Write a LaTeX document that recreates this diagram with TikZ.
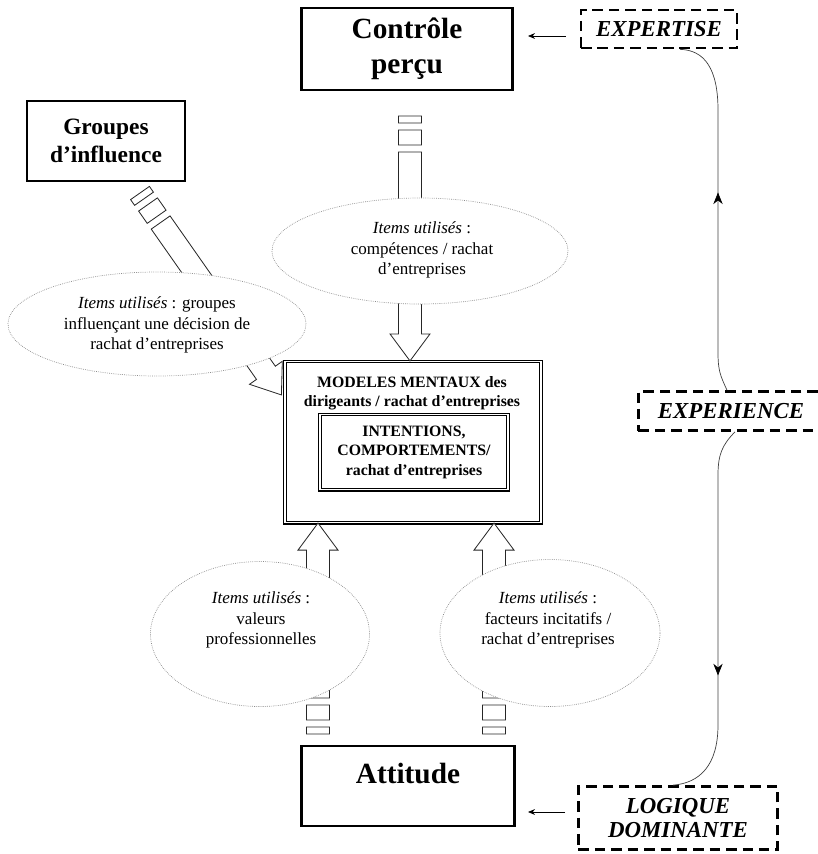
\documentclass[tikz,border=0pt]{standalone}
\usepackage{fontspec}
\setmainfont{Liberation Serif}
\usetikzlibrary{calc,arrows.meta,decorations.markings,shapes.geometric}

\newcommand{\hollowarrow}[2]{%
\draw[blockarrow] let \p1=($(#2)-(#1)$), \n1={atan2(\y1,\x1)}, \n2={veclen(\x1,\y1)} in
  [shift={(#1)}, rotate=\n1]
  (0pt,-0.345cm) -- (0.21cm,-0.345cm) -- (0.21cm,0.345cm) -- (0pt,0.345cm) -- cycle
  (0.42cm,-0.345cm) -- (0.87cm,-0.345cm) -- (0.87cm,0.345cm) -- (0.42cm,0.345cm) -- cycle
  (1.08cm,-0.345cm) -- ({\n2*1pt-0.81cm},-0.345cm) -- ({\n2*1pt-0.81cm},-0.6cm)
  -- ({\n2*1pt},0pt) -- ({\n2*1pt-0.81cm},0.6cm) -- ({\n2*1pt-0.81cm},0.345cm)
  -- (1.08cm,0.345cm) -- cycle;
}

\tikzset{
  mainbox/.style={draw, line width=2.4pt, align=center, inner sep=0pt},
  bigbold/.style={font=\fontsize{25pt}{30pt}\selectfont\bfseries},
  midbold/.style={font=\fontsize{20pt}{24pt}\selectfont\bfseries},
  framebox/.style={draw, double, line width=1pt, double distance=1.4pt, inner sep=0pt},
  modeltext/.style={align=center, font=\fontsize{13.5pt}{16.6pt}\selectfont\bfseries},
  sourcebox/.style={draw, line width=2.3pt, dash pattern=on 9pt off 5pt, align=center, inner sep=0pt,
    font=\fontsize{19.5pt}{21pt}\selectfont\bfseries\itshape},
  bubble/.style={ellipse, draw=black!45, densely dotted, line width=0.6pt, fill=white, inner sep=0pt},
  itemtext/.style={align=center, font=\fontsize{14.5pt}{17.5pt}\selectfont},
  blockarrow/.style={draw=black!85, line width=0.7pt, fill=white},
  pointer/.style={-{Stealth[length=6pt,width=5pt]}, line width=0.7pt},
  linkline/.style={draw=black!75, line width=0.6pt},
  linktip/.style={postaction={decorate, decoration={markings,
    mark=at position #1 with {\arrow[black]{Stealth[length=10pt,width=8pt]}}}}}
}

\begin{document}
\begin{tikzpicture}[x=0.03cm,y=-0.03cm]
\useasboundingbox (0,0) rectangle (818,854);

\node[mainbox, bigbold, minimum width=6.33cm, minimum height=2.46cm] (controle) at (407,49) {Contrôle\\perçu};
\node[mainbox, midbold, minimum width=4.74cm, minimum height=2.4cm] (groupes) at (106,141) {Groupes\\d’influence};
\node[mainbox, bigbold, minimum width=6.39cm, minimum height=2.4cm] (attitude) at (408,786) {Attitude\\[-8pt]\mbox{}};

\node[framebox, minimum width=7.68cm, minimum height=4.83cm] (modeles) at (413,442) {};
\node[modeltext] (modelestxt) at (412,393) {MODELES MENTAUX des\\dirigeants / rachat d’entreprises};
\node[framebox, modeltext, minimum width=5.64cm, minimum height=2.25cm] (intentions) at (414,452) {INTENTIONS,\\COMPORTEMENTS/\\rachat d’entreprises};

\node[sourcebox, minimum width=4.68cm, minimum height=1.14cm] (expertise) at (659,29) {EXPERTISE};
\node[sourcebox, minimum width=5.55cm, minimum height=1.17cm] (experience) at (731,411) {EXPERIENCE};
\node[sourcebox, minimum width=5.97cm, minimum height=1.89cm] (logique) at (678,818) {LOGIQUE\\DOMINANTE};

\coordinate (topstart) at (410,116);
\coordinate (diagstart) at (140,193);
\coordinate (diagend) at ($(modeles.north west)+(-3,34)$);
\coordinate (leftstart) at (318,734);
\coordinate (rightstart) at (494,734);

\hollowarrow{topstart}{modeles.north -| topstart}
\hollowarrow{diagstart}{diagend}
\hollowarrow{leftstart}{modeles.south -| leftstart}
\hollowarrow{rightstart}{modeles.south -| rightstart}

\node[bubble, minimum width=8.94cm, minimum height=3.12cm] (bubgroupes) at (157,324) {};
\node[bubble, minimum width=8.88cm, minimum height=3.18cm] (bubcontrole) at (420,251) {};
\node[bubble, minimum width=6.57cm, minimum height=4.35cm] (bubvaleurs) at (260,634) {};
\node[bubble, minimum width=6.6cm, minimum height=4.41cm] (bubfacteurs) at (550,633) {};

\node[itemtext] (txtgroupes) at (157,325) {\textit{Items utilisés} : groupes\\influençant une décision de\\rachat d’entreprises};
\node[itemtext] (txtcontrole) at (422,250) {\textit{Items utilisés} :\\compétences / rachat\\d’entreprises};
\node[itemtext] (txtvaleurs) at (261,620) {\textit{Items utilisés} :\\valeurs\\professionnelles};
\node[itemtext] (txtfacteurs) at (548,620) {\textit{Items utilisés} :\\facteurs incitatifs /\\rachat d’entreprises};

\coordinate (ptup) at (528,36);
\coordinate (ptdown) at (528,812);
\draw[pointer, shorten <=0.42cm] (expertise.west |- ptup) -- (ptup);
\draw[pointer, shorten <=0.36cm] (logique.west |- ptdown) -- (ptdown);

\draw[linkline, linktip=0.55]
  ([xshift=-0.12cm]experience.north) .. controls (720,375) and (718,370) .. (718,352)
  -- (718,110) .. controls (718,68) and (704,50) .. ([xshift=0.63cm]expertise.south);
\draw[linkline, linktip=0.65]
  ([xshift=0.12cm]experience.south) .. controls (722,445) and (718,455) .. (718,475)
  -- (718,725) .. controls (718,765) and (700,783) .. ([xshift=-0.15cm]logique.north);

\end{tikzpicture}
\end{document}
